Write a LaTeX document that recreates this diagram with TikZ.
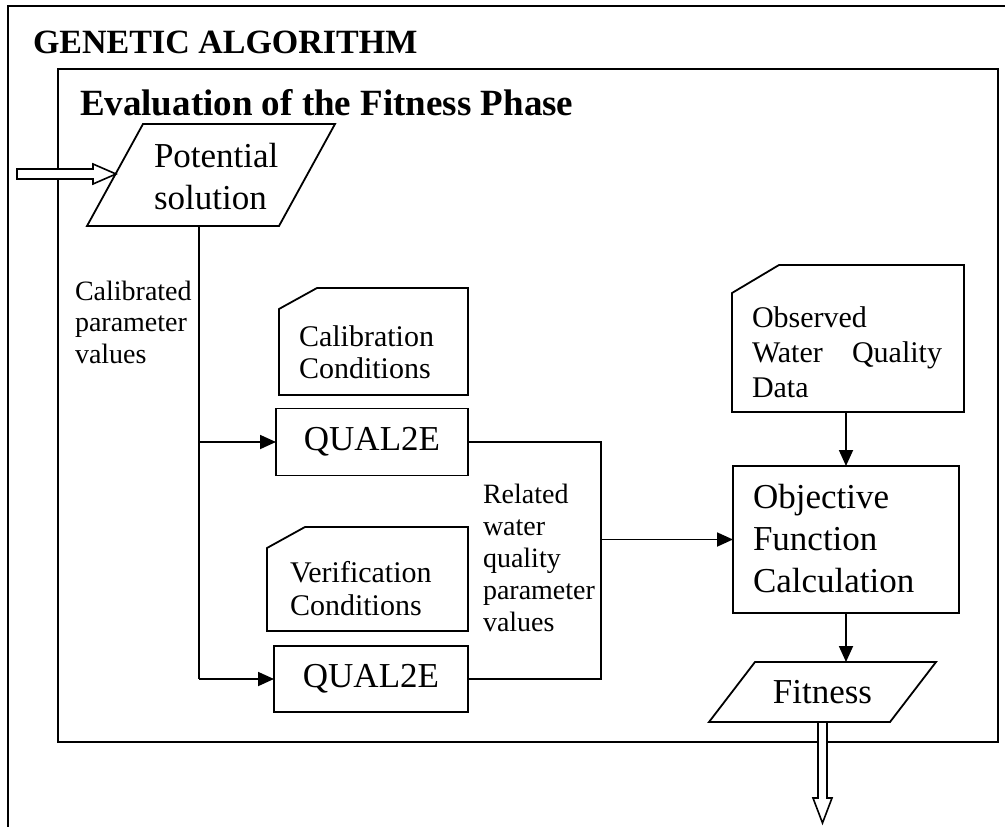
\documentclass[tikz,border=0pt]{standalone}
\usepackage{fontspec}
\setmainfont{Liberation Serif}
\usetikzlibrary{arrows.meta,calc}
\newcommand\fs[2]{\fontsize{#1}{#2}\selectfont}
\newcommand\drawpar[2]{\draw[outline] (#1.south west) -- ($(#1.north west)+(#2,0)$) -- (#1.north east) -- ($(#1.south east)-(#2,0)$) -- cycle;}
\newcommand\drawcard[3]{\draw[outline] (#1.south west) -- ($(#1.north west)+(0,#3)$) -- ($(#1.north west)+(#2,0)$) -- (#1.north east) -- (#1.south east) -- cycle;}
\begin{document}
\begin{tikzpicture}[x=1pt,y=-1pt,line width=1.8pt,
  outline/.style={draw=black,line width=1.8pt,line join=miter},
  shp/.style={inner sep=0pt,outer sep=0pt,draw=none},
  boxed/.style={shp,draw=black,line width=1.8pt},
  txt/.style={inner sep=0pt,outer sep=0pt,anchor=base west,align=left},
  big/.style={font=\fs{35}{42}},
  card/.style={font=\fs{30}{33}},
  lab/.style={font=\fs{28}{32}},
  arr/.style={-{Triangle[length=16pt,width=14pt]}},
  dblarrow/.style={draw=black,fill=white,line width=1.6pt,line join=miter}]
\useasboundingbox (0,0) rectangle (1005,827);
% frames
\draw (8,840) -- (8,6) -- (1012,6);
\draw (58,69) rectangle (998,742);
\node[txt,font=\fs{34}{40}\bfseries] (title) at (33,53) {GENETIC ALGORITHM};
\node[txt,font=\fs{37}{42}\bfseries] (phase) at (80,115) {Evaluation of the Fitness Phase};
% potential solution
\node[shp,minimum width=248pt,minimum height=102pt] (pot) at (211,175) {};
\drawpar{pot}{56}
\node[txt,big,text width=130pt] (pottxt) at (154,167) {Potential\\solution};
% label
\node[txt,lab,text width=125pt,font=\fs{28}{31.5}] (callab) at (75,300) {Calibrated\\parameter\\values};
% calibration card
\node[shp,minimum width=189pt,minimum height=107pt] (cal) at (373.5,341.5) {};
\drawcard{cal}{38}{21}
\node[txt,card,text width=150pt,font=\fs{30}{32}] (caltxt) at (299,346) {Calibration\\Conditions};
% qual2e 1
\node[boxed,big,minimum width=192pt,minimum height=67pt] (q1) at (372,442) {QUAL2E};
% verification card
\node[shp,minimum width=201pt,minimum height=104pt] (ver) at (367.5,579) {};
\drawcard{ver}{38}{21}
\node[txt,card,text width=160pt] (vertxt) at (290,582) {Verification\\Conditions};
% qual2e 2
\node[boxed,big,minimum width=194pt,minimum height=66pt] (q2) at (371,679) {QUAL2E};
% related label
\node[txt,lab,text width=116pt] (rellab) at (483,503) {Related\\water\\quality\\parameter\\values};
% observed card
\node[shp,minimum width=232pt,minimum height=147pt] (obs) at (848,338.5) {};
\drawcard{obs}{47}{28}
\node[txt,card,text width=190pt,font=\fs{30}{35}] (obstxt) at (752,327) {Observed\\\makebox[190pt]{Water\hfill Quality}\\Data};
% objective
\node[boxed,minimum width=226pt,minimum height=147pt] (obj) at (846,539.5) {};
\node[txt,big,text width=200pt] (objtxt) at (753,508) {Objective\\Function\\Calculation};
% fitness
\node[shp,big,minimum width=227pt,minimum height=60pt] (fit) at (822.5,692) {Fitness};
\drawpar{fit}{46}
% connectors
\coordinate (trunk) at (199,442);
\coordinate (merge) at (601,539.5);
\draw (pot.south -| trunk) -- (trunk |- q2.west);
\draw[arr] (trunk |- q2.west) -- (q2.west);
\draw[arr] (trunk) -- (q1.west);
\draw (q1.east) -- (q1.east -| merge) -- (q2.east -| merge) -- (q2.east);
\draw[arr] (merge) -- (obj.west);
\draw[arr] (obj.north |- obs.south) -- (obj.north);
\draw[arr] (obj.south) -- (obj.south |- fit.north);
% double arrows
\coordinate (inS) at (17,174);
\coordinate (inT) at (116,174);
\draw[dblarrow] (inS) ++(0,-5) -- ++(76,0) -- ++(0,-5) -- (inT) -- ++(-23,10) -- ++(0,-5) -- ++(-76,0) -- cycle;
\coordinate (outT) at (822.5,823);
\draw[dblarrow] (fit.south) ++(-4.5,0) -- ++(0,76) -- ++(-5,0) -- (outT) -- ++(9.5,-25) -- ++(-5,0) -- ++(0,-76) -- cycle;
\end{tikzpicture}
\end{document}
